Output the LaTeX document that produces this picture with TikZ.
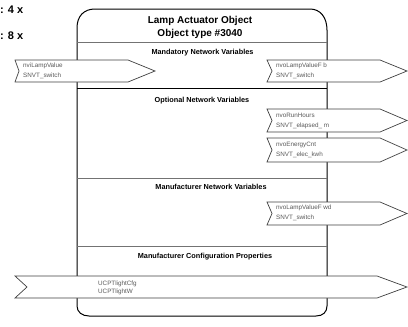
\documentclass[tikz,border=0pt]{standalone}
\usepackage{fontspec}
\setmainfont{Liberation Sans}
\usetikzlibrary{positioning}
\tikzset{frame/.style={draw=black, line width=1pt}}
\tikzset{sepline/.style={draw=black!55, line width=0.9pt}}
\tikzset{nvflag/.style={draw=black!75, fill=white, line width=0.7pt}}
\tikzset{ttl/.style={font=\fontsize{10}{13}\selectfont\bfseries, inner sep=0pt, anchor=base}}
\tikzset{hdr/.style={font=\fontsize{7.3}{9}\selectfont\bfseries, inner sep=0pt, anchor=base}}
\tikzset{nvlbl/.style={font=\fontsize{6.3}{9.8}\selectfont, text=black!65, inner sep=0pt, anchor=north west, align=left}}
\tikzset{cnt/.style={font=\fontsize{11}{13}\selectfont\bfseries, inner sep=0pt, anchor=base west}}
% flag: left, notch, bend, tip, top, mid, bottom
\newcommand{\flagpath}[7]{\draw[nvflag] (#1,#5) -- (#3,#5) -- (#4,#6) -- (#3,#7) -- (#1,#7) -- (#2,#6) -- cycle;}

\begin{document}
\begin{tikzpicture}[x=1pt, y=-1pt]
	\useasboundingbox (0,0) rectangle (408,327);
	\node[cnt] (cnt4) at (0,13) {: 4 x};
	\node[cnt] (cnt8) at (0,39) {: 8 x};
	% object frame
	\draw[frame] (77,170) -- (77,28) .. controls (77,16) and (84,9) .. (95,9) -- (310,9)
		.. controls (320,9) and (327,17) .. (327,30) -- (327,306)
		.. controls (327,312) and (323,316) .. (316,316) -- (89,316)
		.. controls (82,316) and (77,312) .. (77,306) -- cycle;
	\draw[sepline] (77,42) -- (327,42);
	\draw[frame] (77,88) -- (327,88);
	\draw[sepline] (77,178) -- (327,178);
	\draw[sepline] (77,246) -- (327,246);
	\node[ttl] (title) at (200,23.5) {Lamp Actuator Object};
	\node[ttl] (otype) at (200,36.5) {Object type \#3040};
	\node[hdr] (mand) at (202.5,54.7) {Mandatory Network Variables};
	\node[hdr] (opt) at (202,102.7) {Optional Network Variables};
	\node[hdr] (mnv) at (211,189.7) {Manufacturer Network Variables};
	\node[hdr] (mcp) at (205,258.7) {Manufacturer Configuration Properties};
	% network variables
	\flagpath{15}{19}{128}{155}{60}{71}{82}
	\node[nvlbl] (nvi) at (23,62.5) {nviLampValue\\SNVT\_switch};
	\flagpath{267}{272}{380}{407}{60}{71}{82}
	\node[nvlbl] (nvob) at (276,62.5) {nvoLampValueF b\\SNVT\_switch};
	\flagpath{267}{272}{380}{407}{109}{120.5}{132}
	\node[nvlbl] (nvorun) at (276,112.7) {nvoRunHours\\SNVT\_elapsed\_ m};
	\flagpath{267}{272}{380}{407}{138}{150}{162}
	\node[nvlbl] (nvoen) at (276,141.7) {nvoEnergyCnt\\SNVT\_elec\_kwh};
	\flagpath{267}{272}{380}{407}{202}{213.5}{225}
	\node[nvlbl] (nvowd) at (276,205) {nvoLampValueF wd\\SNVT\_switch};
	% configuration properties
	\flagpath{15}{27}{377}{407}{276}{287}{298}
	\node[nvlbl, font=\fontsize{6.3}{8.5}\selectfont] (ucpt) at (98,280.5) {UCPTlightCfg\\UCPTlightW};
\end{tikzpicture}
\end{document}
